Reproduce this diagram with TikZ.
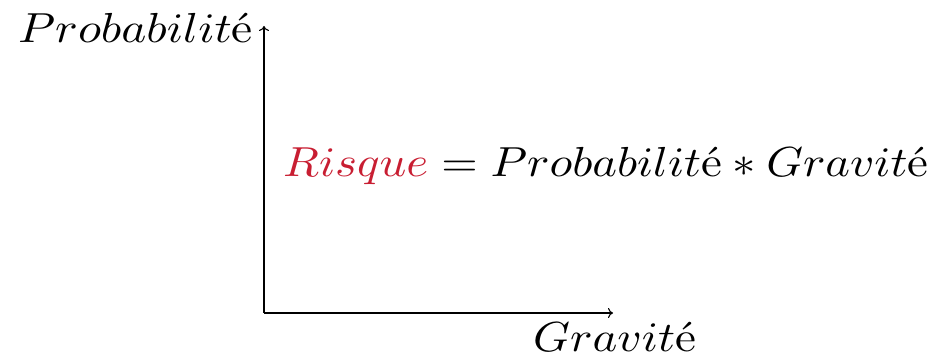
\documentclass[tikz,border=0pt]{standalone}
\usepackage{xcolor}
\usetikzlibrary{arrows.meta}
\definecolor{riskred}{RGB}{200,30,50}
\newcommand{\bigtxt}[2]{\scalebox{#1}[4.2]{#2}}
\begin{document}
\begin{tikzpicture}[x=1pt,y=1pt,
  axis/.style={line width=1.1pt,-{To[length=5pt,width=10pt]}},
  lbl/.style={inner sep=0pt}]
\useasboundingbox (0,0) rectangle (950,361);
\coordinate (O) at (264,48);
\coordinate (Ytop) at (264,335);
\coordinate (Xend) at (613,48);
\draw[axis] (O) -- (Ytop);
\draw[axis] (O) -- (Xend);
\node[lbl,anchor=base west] (prob) at (18,318) {\bigtxt{4.75}{\(Probabilit\)é}};
\node[lbl,anchor=base west] (grav) at (533,9) {\bigtxt{4.7}{\(Gravit\)é}};
\node[lbl,anchor=base west] (form) at (283,184) {\bigtxt{4.68}{\(\textcolor{riskred}{Risque} = Probabilit\)é\({}*Gravit\)é}};
\end{tikzpicture}
\end{document}
